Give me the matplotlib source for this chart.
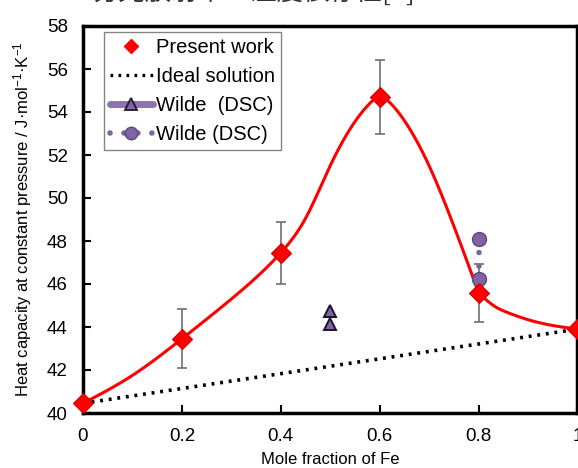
import numpy as np
import matplotlib
matplotlib.use("Agg")
import matplotlib.pyplot as plt
from matplotlib.lines import Line2D

plt.rcParams['font.family'] = ['Liberation Sans', 'DejaVu Sans']
plt.rcParams['mathtext.fontset'] = 'custom'
plt.rcParams['mathtext.rm'] = 'Liberation Sans'
plt.rcParams['mathtext.it'] = 'Liberation Sans'

# Present work (measured points with error bars)
x_pw = [0.0, 0.2, 0.4, 0.6, 0.8, 1.0]
cp_pw = [40.45, 43.45, 47.45, 54.7, 45.6, 43.9]
err_lo = [0.0, 1.35, 1.45, 1.7, 1.35, 0.0]
err_hi = [0.0, 1.4, 1.45, 1.7, 1.35, 0.0]

# fitted curve (left of the bend at 0.8, and right of it)
x_fit_a = [0.0, 0.1, 0.2, 0.3, 0.4, 0.45, 0.5, 0.55, 0.58, 0.6, 0.62, 0.65, 0.7, 0.75, 0.8]
cp_fit_a = [40.45, 41.75, 43.45, 45.3, 47.45, 49.05, 51.5, 53.55, 54.4, 54.7, 54.45,
            53.6, 51.5, 48.7, 45.6]
x_fit_b = [0.8, 0.83, 0.86, 0.9, 0.95, 1.0]
cp_fit_b = [45.6, 45.0, 44.66, 44.34, 44.07, 43.9]

# ideal solution
x_ideal = [0.0, 1.0]
cp_ideal = [40.45, 43.9]

# Wilde (DSC)
x_tri = [0.5, 0.5]
cp_tri = [44.75, 44.15]
x_circ = [0.8, 0.8]
cp_circ = [48.1, 46.25]

purple = '#8064a2'


def spline(xs, ys, n=300):
    # natural cubic spline through the read points, only to draw a smooth line
    xs = np.asarray(xs, float)
    ys = np.asarray(ys, float)
    k = len(xs)
    h = np.diff(xs)
    A = np.zeros((k, k))
    b = np.zeros(k)
    A[0, 0] = A[-1, -1] = 1
    for i in range(1, k - 1):
        A[i, i - 1] = h[i - 1]
        A[i, i] = 2 * (h[i - 1] + h[i])
        A[i, i + 1] = h[i]
        b[i] = 6 * ((ys[i + 1] - ys[i]) / h[i] - (ys[i] - ys[i - 1]) / h[i - 1])
    m = np.linalg.solve(A, b)
    xx = np.linspace(xs[0], xs[-1], n)
    j = np.clip(np.searchsorted(xs, xx) - 1, 0, k - 2)
    t0 = xs[j + 1] - xx
    t1 = xx - xs[j]
    hj = h[j]
    yy = (m[j] * t0 ** 3 + m[j + 1] * t1 ** 3) / (6 * hj) \
        + (ys[j] / hj - m[j] * hj / 6) * t0 + (ys[j + 1] / hj - m[j + 1] * hj / 6) * t1
    return xx, yy


fig = plt.figure(figsize=(5.78, 4.68), dpi=100)
ax = fig.add_axes([83 / 578, 1 - 413 / 468, 1 - 83 / 578 - 0.001, (413 - 26) / 468])

# cropped caption at the very top
fig.text(92 / 578, 1 - 6 / 468, '分光放射率・温度依存性[3]', fontsize=19,
         family=['Noto Sans CJK JP', 'DejaVu Sans'], color='#333333', va='bottom', ha='left')

lx, ly = spline(x_fit_a, cp_fit_a)
rx, ry = spline(x_fit_b, cp_fit_b, n=80)
ax.plot(np.concatenate([lx, rx[1:]]), np.concatenate([ly, ry[1:]]),
        color='#ff0000', lw=2.2, zorder=3, solid_joinstyle='round')
ax.plot(x_ideal, cp_ideal, color='black', lw=2.6, ls=(0, (0.8, 1.6)), zorder=2)

ax.errorbar(x_pw[1:-1], cp_pw[1:-1], yerr=[err_lo[1:-1], err_hi[1:-1]], fmt='none',
            ecolor='#707070', elinewidth=1.2, capsize=3.5, capthick=1.2, zorder=2)
ax.plot(x_pw, cp_pw, ls='none', marker='D', ms=10.5, mfc='#ff0000', mec='#d00000',
        mew=0.8, zorder=5, clip_on=False)

ax.plot(x_circ, cp_circ, color=purple, lw=4, ls=(0, (0.01, 2.42)), dash_capstyle='round', zorder=4)
ax.plot(x_circ, cp_circ, ls='none', marker='o', ms=10, mfc=purple, mec='#5a4680', mew=1.0, zorder=4)
ax.plot(x_tri, cp_tri, ls='none', marker='^', ms=8.5, mfc=purple, mec='#1e1030', mew=1.4, zorder=4)

ax.set_xlim(0, 1)
ax.set_ylim(40, 58)
ax.set_xticks([0, 0.2, 0.4, 0.6, 0.8, 1.0])
ax.set_xticklabels(['0', '0.2', '0.4', '0.6', '0.8', '1'])
ax.set_yticks(range(40, 59, 2))
ax.tick_params(direction='in', length=6, width=1.5, labelsize=13.5)
ax.tick_params(axis='x', pad=11)
ax.tick_params(axis='y', pad=11)
for side in ['left', 'bottom', 'top', 'right']:
    ax.spines[side].set_linewidth(2.5)

ax.set_xlabel('Mole fraction of Fe', fontsize=12, labelpad=5)
ax.set_ylabel('Heat capacity at constant pressure / J·mol$^{-1}$·K$^{-1}$', fontsize=12, labelpad=9)

handles = [
    Line2D([], [], ls='none', marker='D', ms=7.5, mfc='#ff0000', mec='#ff0000'),
    Line2D([], [], color='black', lw=2.4, ls=(0, (0.8, 1.6))),
    Line2D([], [], color=purple, lw=5, alpha=0.9, marker='^', ms=8, mfc=purple,
           mec='#1e1030', mew=1.4, solid_capstyle='round'),
    Line2D([], [], color=purple, lw=4, ls=(0, (0.01, 2.5)), dash_capstyle='round',
           marker='o', ms=9, mfc=purple, mec='#5a4680', markevery=[1]),
]
labels = ['Present work', 'Ideal solution', 'Wilde  (DSC)', 'Wilde (DSC)']
leg = ax.legend(handles, labels, loc='upper left', bbox_to_anchor=(0.043, 0.985),
                fontsize=14.5, frameon=True, fancybox=False, handlelength=2.1,
                handletextpad=0.15, labelspacing=0.5, borderpad=0.3, borderaxespad=0)
leg.get_frame().set_edgecolor('#666666')
leg.get_frame().set_linewidth(1.0)

fig.savefig('out.png', dpi=100)
